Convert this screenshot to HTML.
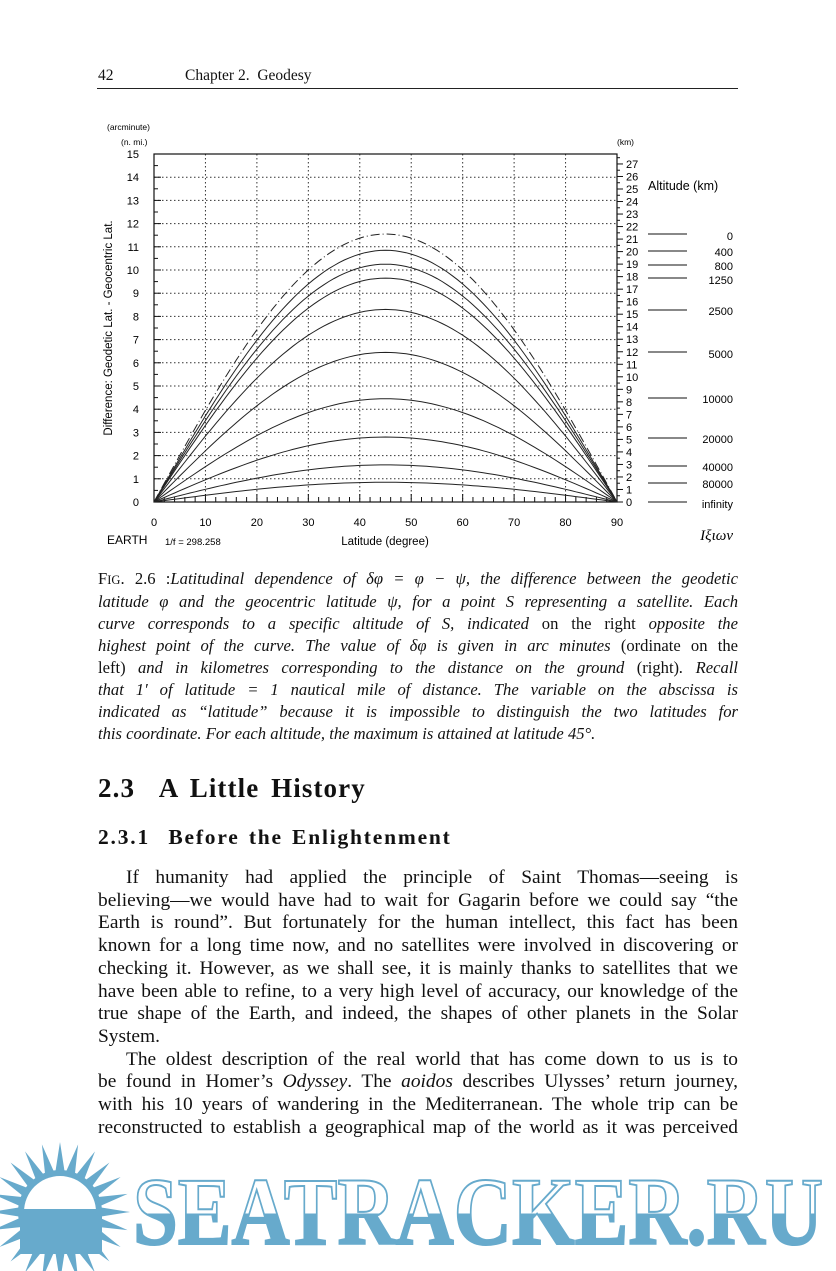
<!DOCTYPE html>
<html><head><meta charset="utf-8"><style>
body{margin:0;background:#fff;width:836px;height:1271px;overflow:hidden;position:relative;font-family:"Liberation Serif",serif;color:#111}
.a{position:absolute}
.hdr{top:67px;font-size:15.5px}
.cap{left:98px;width:640px;top:568px;font-size:16.6px;line-height:22px;font-style:italic}
.cap span{font-style:normal}
.body{left:98px;width:640px;font-size:19.4px;line-height:22.7px}
.j{display:block;text-align:justify;text-align-last:justify;white-space:nowrap}
.j.e{text-align-last:left}
.in{padding-left:28px}
</style></head><body>
<div class="a hdr" style="left:98px">42</div>
<div class="a hdr" style="left:185px">Chapter 2.&nbsp;&nbsp;Geodesy</div>
<div class="a" style="left:97px;top:88px;width:641px;height:1px;background:#222"></div>

<svg class="a" style="left:0;top:0" width="836" height="560" id="ch" font-family="Liberation Sans, sans-serif"></svg>

<div class="a cap">
<div class="j"><span>F<span style="font-size:12.5px">IG</span>. 2.6 :</span>Latitudinal dependence of δφ = φ − ψ, the difference between the geodetic</div>
<div class="j">latitude φ and the geocentric latitude ψ, for a point S representing a satellite. Each</div>
<div class="j">curve corresponds to a specific altitude of S, indicated <span>on the right</span> opposite the</div>
<div class="j">highest point of the curve. The value of δφ is given in arc minutes <span>(ordinate on the</span></div>
<div class="j"><span>left)</span> and in kilometres corresponding to the distance on the ground <span>(right)</span>. Recall</div>
<div class="j">that 1′ of latitude = 1 nautical mile of distance. The variable on the abscissa is</div>
<div class="j">indicated as “latitude” because it is impossible to distinguish the two latitudes for</div>
<div class="j e">this coordinate. For each altitude, the maximum is attained at latitude 45°.</div>
</div>

<div class="a" style="left:98px;top:773px;font-size:27px;font-weight:bold;letter-spacing:1.1px;word-spacing:4px">2.3&nbsp;&nbsp;A Little History</div>
<div class="a" style="left:98px;top:825px;font-size:21.5px;font-weight:bold;letter-spacing:1.8px;word-spacing:2px">2.3.1&nbsp;&nbsp;Before the Enlightenment</div>
<div class="a body" style="top:867px">
<div class="j in">If humanity had applied the principle of Saint Thomas—seeing is</div>
<div class="j">believing—we would have had to wait for Gagarin before we could say “the</div>
<div class="j">Earth is round”. But fortunately for the human intellect, this fact has been</div>
<div class="j">known for a long time now, and no satellites were involved in discovering or</div>
<div class="j">checking it. However, as we shall see, it is mainly thanks to satellites that we</div>
<div class="j">have been able to refine, to a very high level of accuracy, our knowledge of the</div>
<div class="j">true shape of the Earth, and indeed, the shapes of other planets in the Solar</div>
<div class="j e">System.</div>
<div class="j in">The oldest description of the real world that has come down to us is to</div>
<div class="j">be found in Homer’s <i>Odyssey</i>. The <i>aoidos</i> describes Ulysses’ return journey,</div>
<div class="j">with his 10 years of wandering in the Mediterranean. The whole trip can be</div>
<div class="j">reconstructed to establish a geographical map of the world as it was perceived</div>
</div>

<svg class="a" style="left:0;top:1140px" width="836" height="131">
<defs><linearGradient id="g" x1="0" y1="0" x2="0" y2="1"><stop offset="0.52" stop-color="#fff"/><stop offset="0.52" stop-color="#67aacc"/></linearGradient></defs>
<g id="sun" fill="#67aacc"></g>
<circle cx="60" cy="72" r="36" fill="#fff"/>
<rect x="20" y="69" width="82" height="45" fill="#67aacc"/>
<text x="133" y="104" font-family="Liberation Serif, serif" font-weight="bold" font-size="96" textLength="690" lengthAdjust="spacingAndGlyphs" fill="url(#g)" stroke="#67aacc" stroke-width="2">SEATRACKER.RU</text>
</svg>

<script>
const s=document.getElementById('ch');
let h='';
const X=v=>154+v*463/90, Y=v=>502-v*23.2, K=v=>502-v*12.52;
for(let i=1;i<9;i++)h+=`<line x1="${X(i*10)}" y1="154" x2="${X(i*10)}" y2="502" stroke="#333" stroke-width="1" stroke-dasharray="1.5,2.5"/>`;
for(let j=1;j<15;j++)h+=`<line x1="154" y1="${Y(j)}" x2="617" y2="${Y(j)}" stroke="#333" stroke-width="1" stroke-dasharray="1.5,2.5"/>`;
h+=`<rect x="154" y="154" width="463" height="348" fill="none" stroke="#111" stroke-width="1.2"/>`;
for(let j=0;j<=30;j++){const l=j%2?4:7;h+=`<line x1="154" y1="${Y(j/2)}" x2="${154+l}" y2="${Y(j/2)}" stroke="#111"/>`;}
for(let j=0;j<=15;j++)h+=`<text x="139" y="${Y(j)+4}" font-size="11" text-anchor="end">${j}</text>`;
for(let i=0;i<=45;i++){const l=i%5?5:8;h+=`<line x1="${X(i*2)}" y1="502" x2="${X(i*2)}" y2="${502-l}" stroke="#111"/>`;}
for(let i=0;i<=9;i++)h+=`<text x="${X(i*10)}" y="526" font-size="11" text-anchor="middle">${i*10}</text>`;
for(let k=0;k<=27.5;k+=0.5){const l=k%1?3:6;h+=`<line x1="617" y1="${K(k)}" x2="${617+l}" y2="${K(k)}" stroke="#111"/>`;}
for(let k=0;k<=27;k++)h+=`<text x="626" y="${K(k)+4}" font-size="11">${k}</text>`;
h+=`<text x="107" y="130" font-size="8.5">(arcminute)</text><text x="121" y="145" font-size="8.5">(n. mi.)</text><text x="617" y="145" font-size="8.5">(km)</text>`;
h+=`<text transform="translate(112,328) rotate(-90)" font-size="11.5" text-anchor="middle">Difference: Geodetic Lat. - Geocentric Lat.</text>`;
h+=`<text x="385" y="545" font-size="11.5" text-anchor="middle">Latitude (degree)</text>`;
h+=`<text x="107" y="544" font-size="12">EARTH</text><text x="165" y="545" font-size="9.5">1/f = 298.258</text>`;
h+=`<text x="648" y="190" font-size="12.5">Altitude (km)</text>`;
h+=`<text x="733" y="540" font-size="15" font-style="italic" font-family="Liberation Serif, serif" text-anchor="end">Iξιων</text>`;
const L=[[234,'0'],[251,'400'],[265,'800'],[278,'1250'],[310,'2500'],[352,'5000'],[398,'10000'],[438,'20000'],[466,'40000'],[483,'80000'],[502,'infinity']];
const ly=[236,252,266,280,311,354,399,439,467,484,504];
L.forEach((a,i)=>{h+=`<line x1="648" y1="${a[0]}" x2="687" y2="${a[0]}" stroke="#111"/><text x="733" y="${ly[i]+4}" font-size="11" text-anchor="end">${a[1]}</text>`;});
const A=[11.55,10.85,10.25,9.65,8.3,6.45,4.45,2.8,1.6,0.85];
A.forEach((a,i)=>{let d='';for(let p=0;p<=90;p+=1){d+=(p?'L':'M')+X(p).toFixed(1)+','+Y(a*Math.sin(2*p*Math.PI/180)).toFixed(1);}
h+=`<path d="${d}" fill="none" stroke="#222" stroke-width="1" ${i==0?'stroke-dasharray="9,3,1,3"':''}/>`;});
s.innerHTML=h;
let r='';const cx=60,cy=72;
for(let i=0;i<24;i++){const t=i*Math.PI*2/24,w=Math.PI/24*0.9;
r+=`<polygon points="${cx+70*Math.cos(t)},${cy+70*Math.sin(t)} ${cx+40*Math.cos(t+w)},${cy+40*Math.sin(t+w)} ${cx+40*Math.cos(t-w)},${cy+40*Math.sin(t-w)}"/>`;}
r+=`<circle cx="60" cy="72" r="42"/>`;
document.getElementById('sun').innerHTML=r;
</script>
</body></html>
